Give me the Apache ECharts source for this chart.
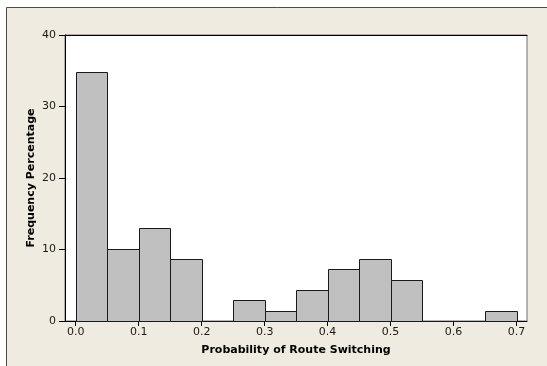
<!DOCTYPE html>
<html>
<head>
<meta charset="utf-8">
<script src="https://cdn.jsdelivr.net/npm/echarts@6/dist/echarts.min.js"></script>
<style>
html,body{margin:0;padding:0;background:#fff;}
#chart{width:547px;height:366px;}
</style>
</head>
<body>
<div id="chart"></div>
<script>
// Histogram bins (start, end) and frequency percentages
const binStarts = [0.00, 0.05, 0.10, 0.15, 0.20, 0.25, 0.30, 0.35, 0.40, 0.45, 0.50, 0.55, 0.60, 0.65];
const binEnds   = [0.05, 0.10, 0.15, 0.20, 0.25, 0.30, 0.35, 0.40, 0.45, 0.50, 0.55, 0.60, 0.65, 0.70];
const freqPct   = [34.8, 10.1, 13.0, 8.7, 0, 2.9, 1.45, 4.35, 7.25, 8.7, 5.8, 0, 0, 1.45];
const xTicks = [0.0, 0.1, 0.2, 0.3, 0.4, 0.5, 0.6, 0.7];
const yTicks = [0, 10, 20, 30, 40];
const xTitle = 'Probability of Route Switching';
const yTitle = 'Frequency Percentage';

const data = binStarts.map((s, i) => [s, binEnds[i], freqPct[i]]);
const FONT = 'DejaVu Sans';

const chart = echarts.init(document.getElementById('chart'), null, {renderer: 'canvas'});
chart.setOption({
  animation: false,
  backgroundColor: '#ffffff',
  graphic: [{
    type: 'rect', z: -100, silent: true,
    shape: {x: 6.5, y: 7.5, width: 560, height: 400},
    style: {fill: '#EFEBE1', stroke: '#4a4a4a', lineWidth: 1}
  }],
  grid: {
    left: 65, top: 35, right: 20, bottom: 45,
    show: true, backgroundColor: '#ffffff', borderColor: '#707070', borderWidth: 1
  },
  xAxis: [{
    type: 'value', min: -0.017, max: 0.7166,
    splitLine: {show: false},
    axisLine: {show: true, onZero: false, lineStyle: {color: '#000', width: 1}},
    axisTick: {show: true, inside: false, length: 5, customValues: xTicks, lineStyle: {color: '#000', width: 1}},
    axisLabel: {customValues: xTicks, formatter: v => v.toFixed(1), color: '#1a1a1a',
      fontFamily: FONT, fontSize: 11, margin: 6},
    name: xTitle, nameLocation: 'middle', nameGap: 24, nameMoveOverlap: false,
    nameTextStyle: {fontFamily: FONT, fontSize: 11, fontWeight: 'bold', color: '#000'}
  }, {
    type: 'value', position: 'top', min: -0.017, max: 0.7166,
    splitLine: {show: false}, axisTick: {show: false}, axisLabel: {show: false},
    axisLine: {show: true, onZero: false, lineStyle: {color: '#000', width: 1}}
  }],
  yAxis: {
    type: 'value', min: 0, max: 40, interval: 10,
    splitLine: {show: false},
    axisLine: {show: true, onZero: false, lineStyle: {color: '#000', width: 1}},
    axisTick: {show: true, inside: false, length: 6, lineStyle: {color: '#000', width: 1}},
    axisLabel: {color: '#1a1a1a', fontFamily: FONT, fontSize: 11, margin: 9,
      formatter: v => yTicks.includes(v) ? String(v) : ''},
    name: yTitle, nameLocation: 'middle', nameGap: 28, nameRotate: 90, nameMoveOverlap: false,
    nameTextStyle: {fontFamily: FONT, fontSize: 11, fontWeight: 'bold', color: '#000'}
  },
  series: [{
    type: 'custom',
    xAxisIndex: 0,
    data: data,
    encode: {x: [0, 1], y: 2},
    renderItem: function (params, api) {
      const x0 = api.value(0), x1 = api.value(1), y = api.value(2);
      const p0 = api.coord([x0, y]);
      const p1 = api.coord([x1, 0]);
      return {
        type: 'rect',
        shape: {x: Math.round(p0[0]) + 0.5, y: Math.round(p0[1]) + 0.5,
                width: Math.round(p1[0]) - Math.round(p0[0]),
                height: Math.round(p1[1]) - Math.round(p0[1])},
        style: {fill: '#C0C0C0', stroke: '#1a1a1a', lineWidth: 1}
      };
    }
  }]
});
</script>
</body>
</html>
